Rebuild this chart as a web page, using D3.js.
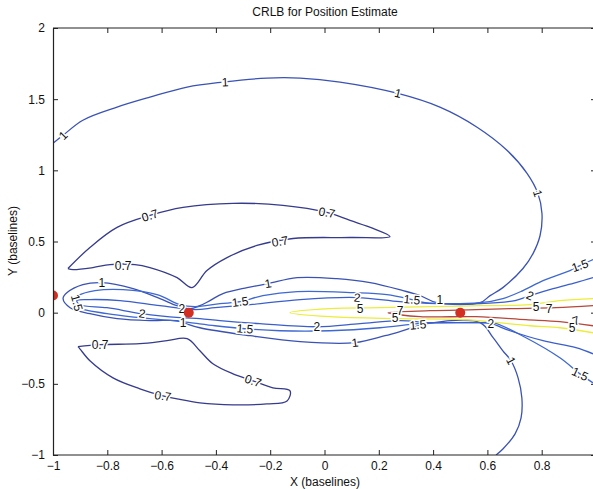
<!DOCTYPE html>
<html>
<head>
<meta charset="utf-8">
<script src="https://cdn.jsdelivr.net/npm/d3@7"></script>
<style>
  html, body { margin: 0; padding: 0; background: #fff; }
  svg { display: block; font-family: "Liberation Sans", Arial, Helvetica, sans-serif; }
</style>
</head>
<body>
<svg id="chart" width="593" height="489"></svg>
<script>
// Contour levels of the position CRLB, traced as polylines in baseline units [x, y]
const levels = [0.7, 1, 1.5, 2, 5, 7];
const levelColors = { 0.7: "#363b8c", 1: "#3a52b4", 1.5: "#3e68d2", 2: "#3a5fcc", 5: "#ecec3a", 7: "#b5483a" };

const contour07Upper = [[-0.945,0.31],[-0.864,0.458],[-0.764,0.599],[-0.643,0.683],[-0.521,0.739],[-0.337,0.768],[-0.153,0.754],[0.009,0.704],[0.094,0.648],[0.179,0.592],[0.241,0.535],[0.094,0.528],[-0.116,0.521],[-0.249,0.472],[-0.359,0.387],[-0.433,0.296],[-0.488,0.176],[-0.543,0.246],[-0.643,0.317],[-0.698,0.338],[-0.790,0.338],[-0.853,0.317],[-0.926,0.303],[-0.945,0.31]];
const contour07Lower = [[-0.908,-0.239],[-0.827,-0.225],[-0.680,-0.218],[-0.580,-0.197],[-0.506,-0.183],[-0.459,-0.268],[-0.411,-0.359],[-0.337,-0.430],[-0.263,-0.479],[-0.190,-0.528],[-0.127,-0.549],[-0.138,-0.620],[-0.212,-0.641],[-0.337,-0.648],[-0.459,-0.634],[-0.543,-0.606],[-0.595,-0.585],[-0.680,-0.535],[-0.779,-0.458],[-0.864,-0.338],[-0.901,-0.254],[-0.908,-0.239]];
const contour1 = [[-1.0,1.19],[-0.963,1.246],[-0.890,1.352],[-0.764,1.444],[-0.643,1.514],[-0.506,1.585],[-0.374,1.620],[-0.212,1.648],[-0.090,1.648],[0.057,1.620],[0.267,1.542],[0.425,1.444],[0.562,1.303],[0.672,1.141],[0.746,0.979],[0.786,0.838],[0.801,0.697],[0.794,0.542],[0.768,0.415],[0.731,0.310],[0.657,0.176],[0.610,0.120],[0.573,0.070],[0.414,0.070],[0.352,0.120],[0.289,0.155],[0.168,0.211],[0.046,0.239],[-0.101,0.246],[-0.208,0.204],[-0.285,0.176],[-0.374,0.134],[-0.422,0.085],[-0.459,0.049],[-0.495,0.028],[-0.543,0.049],[-0.606,0.099],[-0.705,0.169],[-0.820,0.211],[-0.890,0.197],[-0.948,0.141],[-0.963,0.099],[-0.937,0.035],[-0.864,-0.007],[-0.764,-0.042],[-0.643,-0.056],[-0.543,-0.056],[-0.521,-0.070],[-0.459,-0.106],[-0.274,-0.162],[-0.090,-0.204],[0.112,-0.211],[0.223,-0.162],[0.289,-0.127],[0.378,-0.077],[0.573,-0.070],[0.621,-0.176],[0.657,-0.268],[0.687,-0.338],[0.713,-0.458],[0.727,-0.599],[0.724,-0.739],[0.702,-0.852],[0.657,-0.958],[0.632,-1.0]];
const contour15 = [[0.989,0.373],[0.941,0.331],[0.904,0.296],[0.805,0.225],[0.731,0.155],[0.657,0.099],[0.573,0.070],[0.370,0.070],[0.322,0.092],[0.230,0.127],[0.105,0.141],[-0.101,0.148],[-0.227,0.120],[-0.311,0.077],[-0.385,0.063],[-0.477,0.042],[-0.532,0.056],[-0.617,0.127],[-0.742,0.162],[-0.845,0.155],[-0.908,0.120],[-0.930,0.085],[-0.915,0.042],[-0.801,-0.007],[-0.680,-0.035],[-0.558,-0.056],[-0.495,-0.070],[-0.403,-0.092],[-0.293,-0.113],[-0.164,-0.127],[0.020,-0.127],[0.204,-0.106],[0.344,-0.077],[0.425,-0.070],[0.573,-0.070],[0.621,-0.070],[0.742,-0.176],[0.867,-0.317],[0.941,-0.430],[0.989,-0.493]];
const contour2 = [[0.989,0.246],[0.926,0.211],[0.842,0.169],[0.757,0.120],[0.702,0.085],[0.573,0.063],[0.414,0.063],[0.278,0.077],[0.120,0.106],[-0.090,0.092],[-0.274,0.056],[-0.403,0.035],[-0.477,0.021],[-0.606,0.049],[-0.753,0.085],[-0.864,0.092],[-0.912,0.085],[-0.901,0.056],[-0.801,0.035],[-0.672,-0.007],[-0.532,-0.035],[-0.459,-0.042],[-0.385,-0.056],[-0.238,-0.077],[-0.028,-0.099],[0.131,-0.077],[0.278,-0.056],[0.389,-0.070],[0.573,-0.070],[0.613,-0.077],[0.683,-0.127],[0.805,-0.197],[0.926,-0.246],[0.989,-0.289]];
const contour5 = [[0.989,0.099],[0.867,0.085],[0.757,0.056],[0.573,0.049],[0.389,0.042],[0.204,0.035],[0.020,0.028],[-0.127,0.0],[0.020,-0.028],[0.278,-0.042],[0.510,-0.049],[0.757,-0.092],[0.867,-0.106],[0.989,-0.141]];
const contour7 = [[0.989,0.049],[0.853,0.035],[0.683,0.028],[0.558,0.021],[0.389,0.014],[0.234,0.0],[0.352,-0.028],[0.558,-0.028],[0.742,-0.049],[0.867,-0.063],[0.989,-0.092]];

const contourLines = [
  { level: 0.7, points: contour07Upper },
  { level: 0.7, points: contour07Lower },
  { level: 1, points: contour1 },
  { level: 1.5, points: contour15 },
  { level: 2, points: contour2 },
  { level: 5, points: contour5 },
  { level: 7, points: contour7 }
];

// Inline contour labels: [level, x, y, rotation in degrees]
const contourLabels = [
  [1,-0.366,1.620,-3],[1,0.271,1.542,14],[1,0.786,0.838,72],[1,-0.963,1.246,-45],[1,-0.820,0.211,0],
  [1,-0.208,0.204,-10],[1,0.425,0.092,0],[1,-0.521,-0.070,0],[1,0.112,-0.211,-8],[1,0.687,-0.338,62],
  [0.7,-0.643,0.683,-18],[0.7,0.009,0.704,10],[0.7,-0.164,0.500,-10],[0.7,-0.742,0.331,0],
  [0.7,-0.827,-0.225,0],[0.7,-0.263,-0.479,20],[0.7,-0.595,-0.585,8],
  [1.5,-0.311,0.077,-8],[1.5,0.322,0.092,5],[1.5,0.941,0.331,-20],[1.5,-0.912,0.070,75],
  [1.5,-0.293,-0.113,5],[1.5,0.344,-0.085,-5],[1.5,0.941,-0.430,25],
  [2,0.120,0.106,5],[2,0.757,0.120,25],[2,-0.525,0.028,0],[2,-0.672,-0.007,8],[2,-0.028,-0.099,0],[2,0.613,-0.077,0],
  [5,0.131,0.028,0],[5,0.260,-0.035,0],[5,0.779,0.042,0],[5,0.912,-0.106,0],
  [7,0.278,0.014,0],[7,0.827,0.028,0],[7,0.926,-0.056,-20]
];

// Sensor positions [x, y]
const sensors = [[-1.0, 0.12], [-0.5, 0.0], [0.5, 0.0]];

// Axis ticks (the x = 1 edge falls just outside the drawing)
const xTicks = [-1, -0.8, -0.6, -0.4, -0.2, 0, 0.2, 0.4, 0.6, 0.8];
const yTicks = [-1, -0.5, 0, 0.5, 1, 1.5, 2];

(function draw() {
  const svg = d3.select("#chart");
  const pLeft = 53, pRight = 596, pTop = 28, pBottom = 455;

  const x = d3.scaleLinear().domain([-1, 1]).range([pLeft, pRight]);
  const y = d3.scaleLinear().domain([-1, 2]).range([pBottom, pTop]);

  const fmt = v => (v < 0 ? "\u2212" : "") + String(Math.abs(v));

  svg.append("defs").append("clipPath").attr("id", "plotClip")
    .append("rect").attr("x", pLeft).attr("y", pTop)
    .attr("width", pRight - pLeft).attr("height", pBottom - pTop);

  const plot = svg.append("g").attr("clip-path", "url(#plotClip)");
  const line = d3.line().x(d => x(d[0])).y(d => y(d[1])).curve(d3.curveCatmullRom.alpha(0.5));

  plot.selectAll("path.contour")
    .data(contourLines)
    .join("path")
    .attr("class", "contour")
    .attr("d", d => line(d.points))
    .attr("fill", "none")
    .attr("stroke", d => levelColors[d.level])
    .attr("stroke-width", 1.3)
    .attr("stroke-linejoin", "round");

  plot.selectAll("text.clabel")
    .data(contourLabels)
    .join("text")
    .attr("class", "clabel")
    .attr("transform", d => `translate(${x(d[1])},${y(d[2])}) rotate(${d[3]})`)
    .attr("text-anchor", "middle")
    .attr("dy", "0.35em")
    .attr("font-size", 12)
    .attr("fill", "#111")
    .attr("stroke", "#fff")
    .attr("stroke-width", 3)
    .attr("paint-order", "stroke")
    .text(d => String(d[0]));

  plot.selectAll("circle.sensor")
    .data(sensors)
    .join("circle")
    .attr("class", "sensor")
    .attr("cx", d => x(d[0]))
    .attr("cy", d => y(d[1]))
    .attr("r", 5)
    .attr("fill", "#d22f22");

  // Axes box with inward ticks on all four sides
  const axisColor = "#222";
  const tickLen = 5;

  const xAxisB = d3.axisBottom(x).tickValues(xTicks).tickSizeInner(-tickLen).tickSizeOuter(0).tickPadding(6).tickFormat(fmt);
  const xAxisT = d3.axisTop(x).tickValues(xTicks).tickSizeInner(-tickLen).tickSizeOuter(0).tickFormat("");
  const yAxisL = d3.axisLeft(y).tickValues(yTicks).tickSizeInner(-tickLen).tickSizeOuter(0).tickPadding(8).tickFormat(fmt);
  const yAxisR = d3.axisRight(y).tickValues(yTicks).tickSizeInner(-tickLen).tickSizeOuter(0).tickFormat("");

  function styleAxis(g) {
    g.selectAll("path.domain").attr("stroke", axisColor).attr("stroke-width", 1.2);
    g.selectAll(".tick line").attr("stroke", axisColor).attr("stroke-width", 1);
    g.selectAll(".tick text").attr("fill", "#111").attr("font-size", 12)
      .attr("font-family", "'Liberation Sans', Arial, sans-serif");
  }

  const gB = svg.append("g").attr("transform", `translate(0,${pBottom})`).call(xAxisB).call(styleAxis);
  gB.select("path.domain").attr("d", `M${pLeft},0H${pRight}`);
  svg.append("g").attr("transform", `translate(0,${pTop})`).call(xAxisT).call(styleAxis)
    .select("path.domain").attr("d", `M${pLeft},0H${pRight}`);
  svg.append("g").attr("transform", `translate(${pLeft},0)`).call(yAxisL).call(styleAxis);
  svg.append("g").attr("transform", `translate(${pRight},0)`).call(yAxisR).call(styleAxis);

  svg.append("text")
    .attr("x", 325).attr("y", 16)
    .attr("text-anchor", "middle")
    .attr("font-size", 12)
    .attr("fill", "#111")
    .text("CRLB for Position Estimate");

  svg.append("text")
    .attr("x", 325).attr("y", 486)
    .attr("text-anchor", "middle")
    .attr("font-size", 12)
    .attr("fill", "#111")
    .text("X (baselines)");

  svg.append("text")
    .attr("transform", `translate(17,241) rotate(-90)`)
    .attr("text-anchor", "middle")
    .attr("font-size", 12)
    .attr("fill", "#111")
    .text("Y (baselines)");
})();
</script>
</body>
</html>
